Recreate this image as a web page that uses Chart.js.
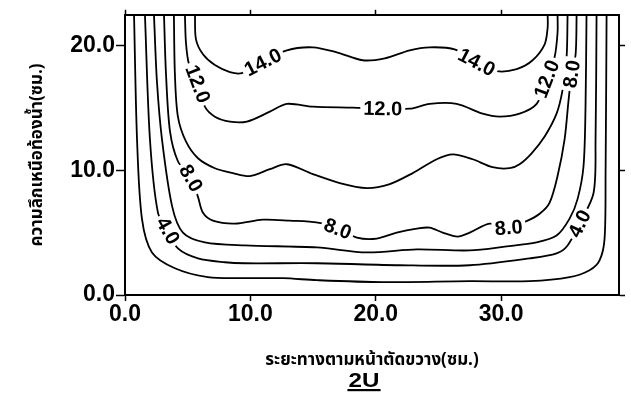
<!DOCTYPE html>
<html>
<head>
<meta charset="utf-8">
<script src="https://cdn.jsdelivr.net/npm/chart.js@4/dist/chart.umd.min.js"></script>
<style>
  html, body { margin: 0; padding: 0; background: #fff; }
  #wrap { width: 631px; height: 406px; }
</style>
</head>
<body>
<div id="wrap"><canvas id="c" width="631" height="406"></canvas></div>
<script>
// Isolines across the flume section: x = distance across section (cm), y = depth above bed (cm)
const contourLevels = [2, 4, 6, 8, 10, 12, 14];

const contour2 = [[0.72,22.5],[0.96,12.49],[1.35,6.13],[2.15,3.42],[3.98,2.15],[6.61,1.43],[9.56,1.35],[12.59,1.35],[15.3,1.19],[20.56,1.03],[27.49,1.11],[32.27,1.11],[35.46,1.43],[37.05,1.99],[37.85,2.78],[38.25,4.53],[38.33,9.79],[38.41,22.5]];
const contour4 = [[1.59,22.5],[1.99,12.49],[2.63,6.6],[3.43,5.17],[4.22,3.74],[5.82,2.94],[7.97,2.63],[9.56,2.55],[15.3,2.55],[21.91,2.39],[27.49,2.39],[32.27,2.94],[34.42,3.34],[35.3,3.98],[36.25,5.73],[37.37,8.19],[37.53,12.49],[37.61,22.5]];
const contour6 = [[2.31,22.5],[2.55,17.1],[2.95,12.49],[3.75,7.16],[4.62,5.01],[6.37,4.22],[9.56,3.98],[15.3,3.82],[19.28,3.42],[23.27,3.66],[27.49,3.58],[30.44,3.9],[32.83,4.22],[34.42,4.77],[35.46,6.13],[36.1,7.72],[36.57,10.34],[36.73,15.12],[36.81,22.5]];
const contour8 = [[3.11,22.5],[3.27,17.74],[3.59,13.13],[4.22,10.74],[5.26,9.39],[5.82,7.88],[6.22,6.6],[7.01,5.97],[8.76,5.73],[11.0,6.05],[13.15,5.97],[15.38,5.81],[16.97,5.33],[18.49,4.61],[20.08,4.53],[21.67,5.01],[23.27,5.33],[24.3,5.41],[25.34,5.01],[26.53,4.69],[27.49,5.01],[29.08,5.73],[30.6,5.41],[32.11,5.97],[33.07,6.52],[33.86,7.4],[34.5,9.55],[35.06,12.49],[35.38,15.67],[35.62,17.74],[35.94,19.33],[36.02,22.5]];
const contour10 = [[3.9,22.5],[3.98,17.74],[4.22,14.32],[4.86,12.33],[5.82,10.98],[7.17,10.18],[8.61,9.79],[9.96,9.55],[11.55,10.1],[12.91,10.5],[14.98,9.71],[17.13,8.99],[19.28,8.59],[21.12,8.91],[22.95,9.79],[24.86,10.9],[26.14,11.3],[27.73,10.9],[29.32,10.26],[30.68,10.18],[31.47,10.5],[32.43,11.38],[33.47,12.73],[34.42,14.56],[34.9,16.47],[35.22,19.09],[35.3,22.5]];
const contour12 = [[4.78,22.5],[4.86,20.29],[5.1,18.54],[5.82,16.95],[6.37,15.12],[7.17,14.32],[8.37,13.92],[9.72,13.92],[11.55,14.72],[12.91,15.35],[14.98,15.12],[18.17,15.04],[20.56,14.96],[22.71,14.96],[24.3,15.35],[26.45,15.35],[28.53,14.56],[29.88,14.32],[31.47,14.56],[32.83,15.35],[33.63,17.34],[34.26,19.09],[34.5,21.08],[34.5,22.5]];
const contour14 = [[5.58,22.5],[5.66,20.53],[6.22,19.33],[7.17,18.46],[8.37,17.9],[9.32,17.82],[11.0,18.7],[12.91,19.65],[14.98,19.89],[16.89,19.49],[18.96,18.85],[20.72,19.01],[22.71,19.65],[24.3,19.89],[26.29,19.73],[28.05,18.7],[29.64,17.98],[31.24,18.14],[32.51,18.85],[33.47,20.13],[33.71,21.48],[33.71,22.5]];

const contours = [contour2, contour4, contour6, contour8, contour10, contour12, contour14];

// in-line value labels: contour level and the vertex of that contour they sit on
const labelLevels = [14, 14, 12, 12, 12, 8, 8, 8, 8, 4, 4];
const labelVertex = [6, 15, 3, 12, 20, 4, 12, 22, 29, 3, 14];

const xTicks = [0, 10, 20, 30];
const yTicks = [0, 10, 20];
const xRange = [0, 39.4];
const yRange = [0, 22.5];

const xTitle = 'ระยะทางตามหน้าตัดขวาง(ซม.)';
const yTitle = 'ความลึกเหนือท้องน้ำ(ซม.)';
const caption = '2U';

const FONT = "'Liberation Sans', Arial, Helvetica, sans-serif";
const THAI = "'Noto Sans Thai', 'Loma', 'Garuda', 'Norasi', 'DejaVu Sans', sans-serif";

const datasets = contours.map((pts, i) => ({
  label: contourLevels[i].toFixed(1),
  data: pts.map(p => ({ x: p[0], y: p[1] })),
  showLine: true,
  borderColor: '#000',
  borderWidth: 1.8,
  pointRadius: 0,
  tension: 0.3,
  fill: false
}));

// white-backed value labels drawn along the contours
const contourLabelPlugin = {
  id: 'contourLabels',
  afterDatasetsDraw(chart) {
    const { ctx, scales } = chart;
    const xs = scales.x, ys = scales.y;
    ctx.save();
    ctx.font = 'bold 20px ' + FONT;
    ctx.textAlign = 'center';
    ctx.textBaseline = 'middle';
    labelLevels.forEach((lev, k) => {
      const pts = contours[contourLevels.indexOf(lev)];
      const j = labelVertex[k];
      const px = p => [xs.getPixelForValue(p[0]), ys.getPixelForValue(p[1])];
      const [cx, cy] = px(pts[j]);
      const [ax, ay] = px(pts[Math.max(0, j - 1)]);
      const [bx, by] = px(pts[Math.min(pts.length - 1, j + 1)]);
      let ang = Math.atan2(by - ay, bx - ax);
      if (ang > Math.PI / 2) ang -= Math.PI;
      if (ang < -Math.PI / 2) ang += Math.PI;
      const txt = lev.toFixed(1);
      const w = ctx.measureText(txt).width;
      ctx.save();
      ctx.translate(cx, cy);
      ctx.rotate(ang);
      ctx.fillStyle = '#fff';
      ctx.fillRect(-w / 2 - 3, -9, w + 6, 18);
      ctx.fillStyle = '#000';
      ctx.fillText(txt, 0, 1);
      ctx.restore();
    });
    ctx.restore();
  }
};

// underlined run caption beneath the axis title
const captionPlugin = {
  id: 'caption',
  afterDraw(chart) {
    const { ctx } = chart;
    ctx.save();
    ctx.font = 'bold 21px ' + FONT;
    ctx.fillStyle = '#000';
    ctx.textAlign = 'center';
    ctx.textBaseline = 'alphabetic';
    const cx = 364, base = 387;
    ctx.translate(cx, base);
    ctx.scale(1.15, 1);
    ctx.fillText(caption, 0, 0);
    const w = ctx.measureText(caption).width;
    ctx.fillRect(-w / 2 - 1, 2, w + 2, 2.2);
    ctx.restore();
  }
};

const tickFont = { family: FONT, size: 23, weight: 'bold' };
const frame = { display: true, color: '#000', width: 2 };
const tickGrid = (len) => ({ display: true, drawOnChartArea: false, drawTicks: true, tickLength: len, tickColor: '#000', tickWidth: 1.5, color: '#000' });

new Chart(document.getElementById('c'), {
  type: 'scatter',
  data: { datasets },
  options: {
    responsive: false,
    animation: false,
    events: [],
    layout: { padding: 0 },
    plugins: { legend: { display: false }, tooltip: { enabled: false } },
    scales: {
      x: {
        type: 'linear', position: 'bottom', min: xRange[0], max: xRange[1],
        afterBuildTicks: s => { s.ticks = xTicks.map(v => ({ value: v })); },
        afterFit: s => { s.height = 111; },
        border: frame,
        grid: tickGrid(6),
        ticks: { color: '#000', font: tickFont, padding: 0, maxRotation: 0, callback: v => Number(v).toFixed(1) },
        title: { display: true, text: xTitle, color: '#000', font: { family: THAI, size: 17, weight: 'bold' }, padding: { top: 0, bottom: 34 } }
      },
      x2: {
        type: 'linear', position: 'top', min: xRange[0], max: xRange[1],
        afterBuildTicks: s => { s.ticks = xTicks.map(v => ({ value: v })); },
        afterFit: s => { s.height = 12; },
        border: frame,
        grid: tickGrid(5),
        ticks: { display: false }
      },
      y: {
        type: 'linear', position: 'left', min: yRange[0], max: yRange[1],
        afterBuildTicks: s => { s.ticks = yTicks.map(v => ({ value: v })); },
        afterFit: s => { s.width = 125; },
        border: frame,
        grid: tickGrid(9),
        ticks: { color: '#000', font: tickFont, padding: 1, callback: v => Number(v).toFixed(1) },
        title: { display: true, text: yTitle, color: '#000', font: { family: THAI, size: 17, weight: 'bold' }, padding: { top: 28, bottom: 0 } }
      },
      y2: {
        type: 'linear', position: 'right', min: yRange[0], max: yRange[1],
        afterBuildTicks: s => { s.ticks = yTicks.map(v => ({ value: v })); },
        afterFit: s => { s.width = 12; },
        border: frame,
        grid: tickGrid(6),
        ticks: { display: false }
      }
    }
  },
  plugins: [contourLabelPlugin, captionPlugin]
});
</script>
</body>
</html>
